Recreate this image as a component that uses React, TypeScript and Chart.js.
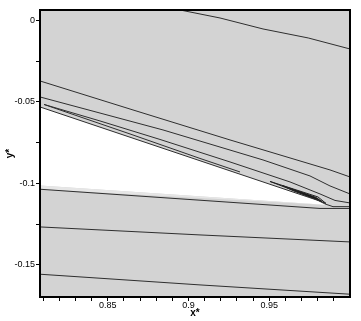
import React, { useEffect, useRef } from 'react';
import { Chart, registerables } from 'chart.js';

Chart.register(...registerables);

// Axis ranges and tick labels
const X_MIN = 0.808;
const X_MAX = 1.0;
const Y_MIN = -0.1697;
const Y_MAX = 0.0063;
const xTickLabels = [0.85, 0.9, 0.95];
const yTickLabels = [0, -0.05, -0.1, -0.15];
const X_STEP = 0.01;
const Y_STEP = 0.025;

type P = [number, number];

// Solid body (trailing-edge wedge), drawn white
const bodyShape: P[] = [
  [0.808, -0.05316],
  [0.98018, -0.11048],
  [0.98637, -0.11324],
  [0.808, -0.10129],
];

// Light band under the lower surface
const lowerBand: P[] = [
  [0.808, -0.10129],
  [0.98637, -0.11324],
  [0.808, -0.10362],
];

// Contour lines
const contourTop: P[] = [
  [0.88976, 0.0073],
  [0.91948, 0.00141],
  [0.94612, -0.00533],
  [0.97413, -0.01085],
  [1.0, -0.0176],
];
const contourA: P[] = [
  [0.808, -0.03722],
  [0.8656, -0.055],
  [0.92568, -0.07339],
  [0.98761, -0.09178],
  [1.0, -0.09608],
];
const contourB: P[] = [
  [0.808, -0.04703],
  [0.88418, -0.06726],
  [0.94612, -0.08565],
  [0.97522, -0.09546],
  [0.98761, -0.10159],
  [1.0, -0.1065],
];
const contourC: P[] = [
  [0.81048, -0.05162],
  [0.84516, -0.06174],
  [0.88232, -0.07308],
  [0.92568, -0.08688],
  [0.96284, -0.09914],
  [0.98142, -0.1065],
  [0.99071, -0.11048],
  [1.0, -0.11202],
];
const contourCLower: P[] = [
  [0.81048, -0.05162],
  [0.82039, -0.055],
  [0.86374, -0.06971],
  [0.9071, -0.08473],
  [0.93187, -0.09301],
];
const surfaceLine: P[] = [
  [0.808, -0.05316],
  [0.98018, -0.11048],
  [0.98451, -0.11263],
  [0.98947, -0.11429],
  [1.0, -0.11429],
];
const lowerLine: P[] = [
  [0.808, -0.10362],
  [0.98142, -0.11539],
  [1.0, -0.11539],
];
const contourLow1: P[] = [
  [0.808, -0.12673],
  [0.9071, -0.13164],
  [1.0, -0.13593],
];
const contourLow2: P[] = [
  [0.808, -0.15573],
  [0.9071, -0.16229],
  [1.0, -0.16799],
];

// Tight contour loops near the trailing edge
const teLoop1: P[] = [
  [0.95045, -0.09884],
  [0.98018, -0.10834],
  [0.98513, -0.11232],
  [0.96903, -0.10589],
  [0.95045, -0.09884],
];
const teLoop2: P[] = [
  [0.95788, -0.10129],
  [0.97894, -0.10865],
  [0.98266, -0.1111],
  [0.96593, -0.10497],
  [0.95788, -0.10129],
];
const teLoop3: P[] = [
  [0.96284, -0.10313],
  [0.97832, -0.10865],
  [0.9808, -0.11018],
  [0.96903, -0.10558],
  [0.96284, -0.10313],
];
const teLoop4: P[] = [
  [0.96779, -0.10497],
  [0.9777, -0.10865],
  [0.97894, -0.10956],
  [0.97151, -0.1065],
  [0.96779, -0.10497],
];

const FIELD = '#d3d3d3';
const BAND = '#e6e6e6';
const LINE = '#2e2e2e';
const FONT = "'Liberation Sans', Arial, Helvetica, sans-serif";

const toXY = (pts: P[]) => pts.map(([x, y]) => ({ x, y }));

const lineSet = (pts: P[], color = LINE) => ({
  data: toXY(pts),
  showLine: true,
  pointRadius: 0,
  borderColor: color,
  borderWidth: 1,
  fill: false,
  tension: 0,
  order: 0,
});

const shapeSet = (pts: P[], color: string, order: number) => ({
  data: toXY(pts),
  showLine: true,
  pointRadius: 0,
  borderWidth: 0,
  borderColor: 'rgba(0,0,0,0)',
  backgroundColor: color,
  fill: 'shape',
  tension: 0,
  order,
});

const labelFor = (list: number[]) => (value: any) => {
  const v = Number(value);
  const m = list.find((t) => Math.abs(t - v) < 1e-6);
  return m === undefined ? '' : String(m);
};

const fieldBackground = {
  id: 'fieldBackground',
  beforeDatasetsDraw(chart: any) {
    const { ctx, chartArea: a } = chart;
    ctx.save();
    ctx.fillStyle = FIELD;
    ctx.fillRect(a.left, a.top, a.right - a.left, a.bottom - a.top);
    ctx.restore();
  },
};

const frame = {
  id: 'frame',
  afterDraw(chart: any) {
    const { ctx, chartArea: a } = chart;
    ctx.save();
    ctx.strokeStyle = '#000';
    ctx.lineWidth = 2;
    ctx.strokeRect(a.left, a.top, a.right - a.left, a.bottom - a.top);
    ctx.restore();
  },
};

export default function App() {
  const ref = useRef<HTMLCanvasElement | null>(null);

  useEffect(() => {
    if (!ref.current) return;
    const chart = new Chart(ref.current, {
      type: 'scatter',
      data: {
        datasets: [
          lineSet(contourTop),
          lineSet(contourA),
          lineSet(contourB),
          lineSet(contourC),
          lineSet(contourCLower),
          lineSet(surfaceLine),
          lineSet(lowerLine),
          lineSet(contourLow1),
          lineSet(contourLow2),
          lineSet(teLoop1, '#222'),
          lineSet(teLoop2, '#222'),
          lineSet(teLoop3, '#111'),
          lineSet(teLoop4, '#111'),
          shapeSet(lowerBand, BAND, 4),
          shapeSet(bodyShape, '#ffffff', 5),
        ] as any,
      },
      options: {
        animation: false,
        responsive: false,
        devicePixelRatio: 1,
        events: [],
        layout: { padding: { left: 0, top: 10, right: 11, bottom: 0 } },
        plugins: { legend: { display: false }, tooltip: { enabled: false } },
        scales: {
          x: {
            type: 'linear',
            position: 'bottom',
            min: X_MIN,
            max: X_MAX,
            afterFit: (s: any) => {
              s.height = 24;
            },
            ticks: {
              stepSize: X_STEP,
              includeBounds: false,
              autoSkip: false,
              maxRotation: 0,
              padding: 0,
              color: '#000',
              font: { family: FONT, size: 9, lineHeight: 1 },
              callback: labelFor(xTickLabels),
            },
            grid: {
              drawOnChartArea: false,
              drawTicks: true,
              tickLength: 4,
              color: (c: any) => (c.tick && c.tick.value > X_MAX - 1e-4 ? 'rgba(0,0,0,0)' : '#000'),
              lineWidth: 1,
            },
            border: { display: false },
            title: {
              display: true,
              text: 'x*',
              color: '#000',
              font: { family: FONT, size: 10, weight: 'bold' },
              padding: { top: 0, bottom: 2 },
            },
          },
          y: {
            type: 'linear',
            min: Y_MIN,
            max: Y_MAX,
            afterFit: (s: any) => {
              s.width = 40;
            },
            ticks: {
              stepSize: Y_STEP,
              includeBounds: false,
              autoSkip: false,
              padding: 1,
              color: '#000',
              font: { family: FONT, size: 9, lineHeight: 1 },
              callback: labelFor(yTickLabels),
            },
            grid: {
              drawOnChartArea: false,
              drawTicks: true,
              tickLength: 4,
              color: '#000',
              lineWidth: 1,
            },
            border: { display: false },
            title: {
              display: true,
              text: 'y*',
              color: '#000',
              font: { family: FONT, size: 10, weight: 'bold' },
              padding: { top: 4, bottom: 0 },
            },
          },
        },
      } as any,
      plugins: [fieldBackground, frame],
    });
    return () => chart.destroy();
  }, []);

  return (
    <div style={{ position: 'fixed', left: 0, top: 0, width: 361, height: 321 }}>
      <canvas ref={ref} width={361} height={321} style={{ display: 'block', width: 361, height: 321 }} />
    </div>
  );
}
